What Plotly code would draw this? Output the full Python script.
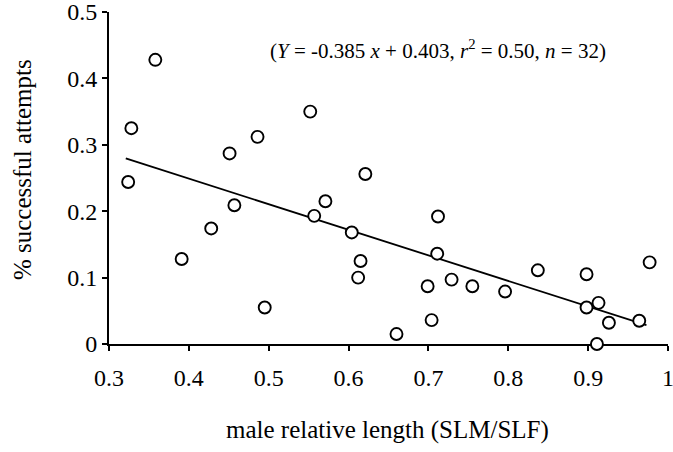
import plotly.graph_objects as go

# Data
male_rel_length = [0.358, 0.328, 0.324, 0.451, 0.486, 0.457, 0.428, 0.391, 0.495,
                   0.552, 0.621, 0.571, 0.557, 0.712, 0.604, 0.711, 0.615, 0.612,
                   0.699, 0.729, 0.755, 0.704, 0.660, 0.796, 0.837, 0.898, 0.977,
                   0.898, 0.913, 0.926, 0.964, 0.911]
success_rate = [0.428, 0.325, 0.244, 0.287, 0.312, 0.209, 0.174, 0.128, 0.055,
                0.350, 0.256, 0.215, 0.193, 0.192, 0.168, 0.136, 0.125, 0.100,
                0.087, 0.097, 0.087, 0.036, 0.015, 0.079, 0.111, 0.105, 0.123,
                0.055, 0.062, 0.032, 0.035, 0.0]

fit_slope = -0.385
fit_intercept = 0.403
fit_x = [0.321, 0.973]
fit_y = [fit_slope * v + fit_intercept for v in fit_x]

x_tickvals = [0.3, 0.4, 0.5, 0.6, 0.7, 0.8, 0.9, 1.0]
x_ticktext = ["0.3", "0.4", "0.5", "0.6", "0.7", "0.8", "0.9", "1"]
y_tickvals = [0, 0.1, 0.2, 0.3, 0.4, 0.5]
y_ticktext = ["0", "0.1", "0.2", "0.3", "0.4", "0.5"]

FONT = "Liberation Serif, Times New Roman, serif"

fig = go.Figure()
fig.add_trace(go.Scatter(
    x=fit_x, y=fit_y, mode="lines",
    line=dict(color="black", width=1.8),
    hoverinfo="skip", showlegend=False,
))
fig.add_trace(go.Scatter(
    x=male_rel_length, y=success_rate, mode="markers",
    marker=dict(symbol="circle", size=12, color="white",
                line=dict(color="black", width=1.9)),
    cliponaxis=False, showlegend=False,
))

axis_common = dict(
    showline=True, linecolor="black", linewidth=2,
    ticks="outside", ticklen=5, tickwidth=2, tickcolor="black",
    showgrid=False, zeroline=False, layer="below traces",
    automargin=False, ticklabeloverflow="allow",
    tickfont=dict(family=FONT, size=24, color="black"),
)

fig.update_layout(
    width=673, height=452,
    margin=dict(l=109, r=5, t=12, b=108),
    paper_bgcolor="white", plot_bgcolor="white",
    font=dict(family=FONT, color="black"),
    xaxis=dict(range=[0.3, 1.0], tickvals=x_tickvals, ticktext=x_ticktext,
               ticklabelstandoff=6, **axis_common),
    yaxis=dict(range=[0, 0.5], tickvals=y_tickvals, ticktext=y_ticktext,
               **axis_common),
    annotations=[
        dict(text="(<i>Y</i> = -0.385 <i>x</i> + 0.403, <i>r</i><sup>2</sup> = 0.50, <i>n</i> = 32)",
             xref="paper", yref="paper", x=0.5886, y=0.886,
             xanchor="center", yanchor="middle", showarrow=False,
             font=dict(family=FONT, size=21, color="black")),
        dict(text="male relative length (SLM/SLF)",
             xref="paper", yref="paper", x=0.499, y=-0.259,
             xanchor="center", yanchor="middle", showarrow=False,
             font=dict(family=FONT, size=25, color="black")),
        dict(text="% successful attempts", textangle=-90,
             xref="paper", yref="paper", x=-0.1556, y=0.524,
             xanchor="center", yanchor="middle", showarrow=False,
             font=dict(family=FONT, size=25, color="black")),
    ],
)

fig.write_html(
    "out.html",
    config={"displayModeBar": False},
    post_script="document.body.style.margin='0';document.body.style.padding='0';"
                "document.body.style.overflow='hidden';",
)
